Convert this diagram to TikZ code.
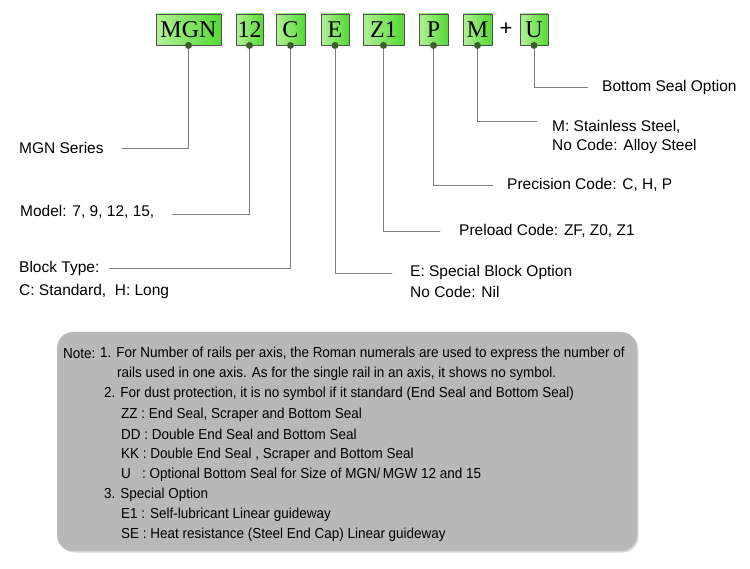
\documentclass[tikz,border=0pt]{standalone}
\usepackage{fontspec}
\setmainfont{Liberation Sans}
\newfontfamily\codefont{Liberation Serif}
\newfontfamily\notefont{Liberation Sans}[FakeStretch=0.93]
\definecolor{boxlight}{RGB}{178,240,150}
\definecolor{boxdark}{RGB}{84,218,52}
\definecolor{boxedge}{RGB}{80,80,80}
\definecolor{dotgreen}{RGB}{60,92,48}
\definecolor{leadgray}{RGB}{130,126,126}
\definecolor{notegray}{RGB}{184,184,184}
\definecolor{noteshade}{RGB}{215,215,215}
\begin{document}
\begin{tikzpicture}[x=1pt,y=-1pt, line join=round, line cap=round,
	codebox/.style={draw=boxedge, line width=0.9pt, left color=boxlight, right color=boxdark,
		minimum height=31pt, inner sep=0pt, font=\codefont\fontsize{24}{24}\selectfont},
	pindot/.style={circle, fill=dotgreen, inner sep=0pt, minimum size=7pt},
	lead/.style={draw=leadgray, line width=0.8pt},
	lbl/.style={anchor=west, inner sep=0pt, font=\fontsize{15.5}{18}\selectfont},
	notetxt/.style={anchor=west, inner sep=0pt, font=\notefont\fontsize{14.5}{16}\selectfont}]
	\useasboundingbox (0,0) rectangle (750,569);
	\def\boxy{29.5}
	% code boxes
	\foreach \nm/\cx/\bw/\txt in {mgn/188.5/65/MGN, size/249.5/27/12, type/290.5/29/C, spec/335/28/E,
		pre/383.5/41/Z1, prec/433.5/29/P, mat/477.5/29/M, seal/534/28/U}{
		\node[codebox, minimum width=\bw pt] (\nm) at (\cx,\boxy) {\txt};
		\node[pindot] (\nm d) at (\nm.south) {};
	}
	\node[font=\fontsize{22}{22}\selectfont] (plus) at (506,\boxy) {+};
	% labels, left side
	\node[lbl] (tSeries) at (19,148) {MGN Series};
	\node[lbl] (tModel) at (20,212) {Model: 7, 9, 12, 15,};
	\node[lbl] (tBlock) at (19,268) {Block Type:};
	\node[lbl] (tBlockb) at (19,291) {C: Standard,\ \ H: Long};
	% labels, right side
	\node[lbl] (tSpec) at (410,272) {E: Special Block Option};
	\node[lbl] (tSpecb) at (410,292) {No Code: Nil};
	\node[lbl] (tPre) at (459,231) {Preload Code: ZF, Z0, Z1};
	\node[lbl] (tPrec) at (507,185) {Precision Code: C, H, P};
	\node[lbl] (tMat) at (552,127) {M: Stainless Steel,};
	\node[lbl] (tMatb) at (552,146) {No Code: Alloy Steel};
	\node[lbl] (tSeal) at (602,87) {Bottom Seal Option};
	% leaders
	\draw[lead] (mgnd) |- ([xshift=18pt,yshift=-0.5pt]tSeries.east);
	\draw[lead] (sized) |- ([xshift=18pt,yshift=-2pt]tModel.east);
	\draw[lead] (typed) |- ([xshift=10pt]tBlock.east);
	\draw[lead] (specd) |- ([xshift=-18pt,yshift=-1pt]tSpec.west);
	\draw[lead] (pred) |- ([xshift=-19pt]tPre.west);
	\draw[lead] (precd) |- ([xshift=-14pt]tPrec.west);
	\draw[lead] (matd) |- ([xshift=-15pt,yshift=6pt]tMat.west);
	\draw[lead] (seald) |- ([xshift=-14pt]tSeal.west);
	% note panel
	\fill[noteshade, rounded corners=16pt] (58.5,333.5) rectangle (638.5,552.5);
	\fill[notegray, rounded corners=16pt] (57,332) rectangle (637,551);
	\node[notetxt] (tNote) at (63,354) {Note:};
	\foreach \i/\xx/\txt in {0/100/{1. For Number of rails per axis, the Roman numerals are used to express the number of},
		1/117/{rails used in one axis. As for the single rail in an axis, it shows no symbol.},
		2/104/{2. For dust protection, it is no symbol if it standard (End Seal and Bottom Seal)},
		3/121/{ZZ : End Seal, Scraper and Bottom Seal},
		4/121/{DD : Double End Seal and Bottom Seal},
		5/121/{KK : Double End Seal , Scraper and Bottom Seal},
		6/121/{U\ \ \ : Optional Bottom Seal for Size of MGN/\,MGW 12 and 15},
		7/104/{3. Special Option},
		8/121/{E1 : Self-lubricant Linear guideway},
		9/121/{SE : Heat resistance (Steel End Cap) Linear guideway}}
	\node[notetxt] (n\i) at (\xx,354+20.1*\i) {\txt};
\end{tikzpicture}
\end{document}
